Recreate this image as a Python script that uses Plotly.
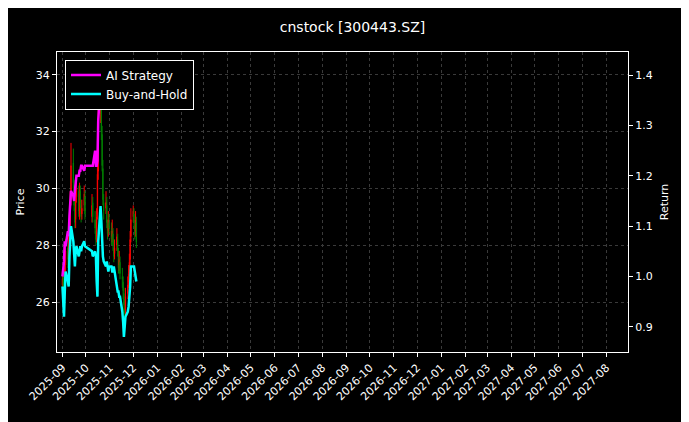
import pandas as pd
import plotly.graph_objects as go

# trading days Sep 1 - Dec 5 2025, skipping the October holiday
days = pd.bdate_range("2025-09-01", "2025-12-05")
days = [d for d in days if not (pd.Timestamp("2025-10-01") <= d <= pd.Timestamp("2025-10-08"))]

opens = [26.6, 26.9, 26.4, 26.3, 27.3, 27.9, 27.4, 28.1, 28.7, 29.6, 30.9, 30.1, 29.3, 28.9, 29.7, 29.9, 29.1, 29.9, 29.4, 29.1, 29.4, 29.7,
         29.0, 29.5, 28.9, 28.5, 28.3, 29.1, 30.6, 32.6, 33.6, 31.9, 30.7, 29.5, 29.3, 29.4, 28.7, 28.5, 28.8,
         28.5, 28.3, 28.4, 27.9, 27.7, 28.0, 28.2, 27.7, 27.3, 27.4, 26.9, 26.7, 26.3, 25.8, 25.7, 26.3, 26.7, 27.1, 27.5, 28.3,
         29.0, 29.1, 28.7, 28.5, 28.8]
highs = [27.1, 27.2, 26.8, 27.6, 28.2, 28.3, 28.4, 28.9, 29.9, 31.6, 31.4, 30.3, 29.6, 29.9, 30.3, 30.1, 30.2, 30.1, 29.6, 29.6, 30.1, 29.9,
         29.8, 29.7, 29.2, 28.8, 29.3, 30.9, 33.0, 34.3, 33.9, 32.2, 31.0, 29.8, 29.9, 29.7, 28.9, 29.2, 29.1,
         28.8, 28.9, 28.6, 28.2, 28.2, 28.6, 28.4, 27.9, 27.8, 27.6, 27.2, 26.9, 26.5, 26.1, 26.5, 26.9, 27.3, 27.7, 28.5, 29.3,
         29.4, 29.3, 28.9, 29.2, 29.0]
lows = [26.3, 26.3, 26.0, 26.1, 27.0, 27.2, 27.2, 27.8, 28.4, 29.4, 30.0, 29.2, 28.6, 28.6, 29.5, 29.0, 28.9, 29.3, 28.8, 28.9, 29.2, 28.9,
        28.8, 28.8, 28.4, 28.0, 28.1, 28.9, 30.3, 32.3, 31.7, 30.6, 29.4, 28.9, 29.1, 28.6, 28.2, 28.3, 28.4,
        28.0, 28.1, 27.8, 27.4, 27.5, 27.8, 27.6, 27.0, 27.1, 26.8, 26.5, 26.1, 25.6, 25.4, 25.5, 26.1, 26.5, 26.9, 27.3, 28.1,
        28.8, 28.6, 28.2, 28.3, 27.9]
closes = [26.8, 26.5, 26.2, 27.2, 27.8, 27.5, 28.0, 28.6, 29.5, 30.8, 30.2, 29.4, 28.8, 29.6, 30.0, 29.2, 29.8, 29.5, 29.0, 29.3, 29.8, 29.1,
          29.4, 29.0, 28.6, 28.2, 29.0, 30.5, 32.5, 33.8, 32.0, 30.8, 29.6, 29.2, 29.5, 28.8, 28.4, 28.9, 28.6,
          28.2, 28.5, 28.0, 27.6, 27.9, 28.3, 27.8, 27.2, 27.5, 27.0, 26.8, 26.4, 25.9, 25.6, 26.2, 26.6, 27.0, 27.4, 28.2, 28.9,
          29.2, 28.8, 28.4, 28.9, 28.1]

ai_return = [1.00, 1.01, 1.03, 1.07, 1.06, 1.09, 1.08, 1.12, 1.15, 1.17, 1.16, 1.15, 1.17, 1.19, 1.20, 1.20, 1.21, 1.21, 1.22, 1.22, 1.21, 1.22,
             1.22, 1.22, 1.25, 1.22, 1.22, 1.23, 1.31, 1.40, 1.41, 1.41, 1.41, 1.41, 1.41, 1.41, 1.41, 1.41, 1.41,
             1.41, 1.41, 1.41, 1.41, 1.41, 1.41, 1.41, 1.41, 1.41, 1.41, 1.41, 1.41, 1.41, 1.41, 1.41, 1.41, 1.41, 1.41, 1.41, 1.41,
             1.41, 1.41, 1.41, 1.41, 1.41]
bh_return = [0.98, 0.95, 0.92, 0.97, 1.01, 0.99, 0.98, 1.04, 1.09, 1.10, 1.07, 1.04, 1.02, 1.05, 1.06, 1.04, 1.05, 1.06, 1.05, 1.06, 1.07, 1.06,
             1.05, 1.04, 1.05, 1.04, 0.99, 0.96, 1.07, 1.14, 1.11, 1.07, 1.04, 1.03, 1.02, 1.03, 1.02, 1.01, 1.02,
             1.02, 1.01, 1.01, 1.02, 1.01, 0.98, 0.97, 0.97, 0.96, 0.96, 0.93, 0.91, 0.88, 0.90, 0.92, 0.93, 0.94, 0.96, 0.98, 1.02,
             1.02, 1.02, 1.01, 1.00, 0.99]

fig = go.Figure()
fig.add_trace(go.Candlestick(
    x=days, open=opens, high=highs, low=lows, close=closes,
    increasing=dict(line=dict(color="red", width=1), fillcolor="red"),
    decreasing=dict(line=dict(color="green", width=1), fillcolor="green"),
    whiskerwidth=0, showlegend=False,
))
fig.add_trace(go.Scatter(x=days, y=ai_return, yaxis="y2", mode="lines", name="AI Strategy",
                         line=dict(color="#ff00ff", width=2.5)))
fig.add_trace(go.Scatter(x=days, y=bh_return, yaxis="y2", mode="lines", name="Buy-and-Hold",
                         line=dict(color="#00ffff", width=2.5)))

grid = dict(showgrid=True, gridcolor="#3a3a3a", griddash="dot", gridwidth=0.6,
            showline=True, linecolor="white", mirror=True, ticks="outside", ticklen=4,
            tickcolor="white", zeroline=False, automargin=False,
            tickfont=dict(family="DejaVu Sans", size=11, color="white"))

fig.update_layout(
    width=689, height=422,
    paper_bgcolor="black", plot_bgcolor="black",
    font=dict(family="DejaVu Sans", color="white", size=11),
    title=dict(text="cnstock [300443.SZ]", x=0.5, y=0.955, xanchor="center", yanchor="middle",
               font=dict(size=14), automargin=False),
    margin=dict(l=49, r=69, t=44, b=78),
    xaxis=dict(**grid, type="date", range=["2025-08-25", "2027-08-29"], dtick="M1",
               tickformat="%Y-%m", tickangle=-45, rangeslider=dict(visible=False)),
    yaxis=dict(**grid, range=[24.24, 34.8], dtick=2,
               title=dict(text="Price", font=dict(size=11), standoff=8)),
    yaxis2=dict(overlaying="y", side="right", range=[0.85, 1.446], dtick=0.1, tickformat=".1f",
                showgrid=False, showline=True, linecolor="white", ticks="outside", ticklen=4,
                tickcolor="white", zeroline=False, automargin=False,
                tickfont=dict(family="DejaVu Sans", size=11, color="white"),
                title=dict(text="Return", font=dict(size=11), standoff=8)),
    legend=dict(x=0.014, y=0.975, xanchor="left", yanchor="top", bgcolor="black",
                bordercolor="white", borderwidth=1, font=dict(size=12, color="white")),
)

fig.write_html("out.html")
